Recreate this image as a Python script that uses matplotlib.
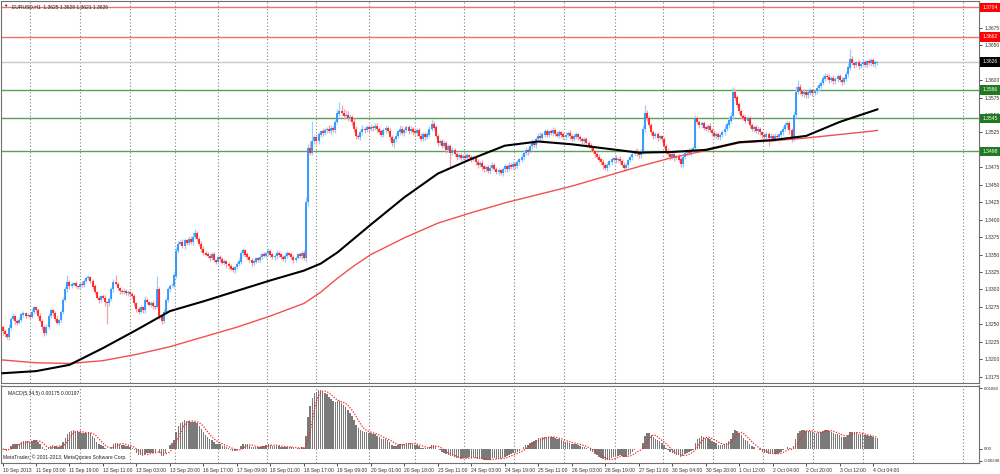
import numpy as np
import pandas as pd
import matplotlib
matplotlib.use("Agg")
import matplotlib.pyplot as plt
from matplotlib.transforms import blended_transform_factory

plt.rcParams["font.family"] = ["Liberation Sans", "DejaVu Sans"]

# ---------------- data ----------------
first_open = 1.3246
closes = [
 1.3240,1.3236,1.3232,1.3245,1.3258,1.3262,1.3255,1.3252,1.3256,1.3264,
 1.3266,1.3262,1.3263,1.3261,1.3268,1.3274,1.3270,1.3262,1.3255,1.3246,
 1.3238,1.3246,1.3262,1.3270,1.3266,1.3258,1.3252,1.3256,1.3268,1.3285,
 1.3300,1.3310,1.3305,1.3307,1.3309,1.3305,1.3304,1.3308,1.3306,1.3312,
 1.3316,1.3318,1.3312,1.3304,1.3296,1.3288,1.3285,1.3290,1.3288,1.3282,
 1.3280,1.3286,1.3300,1.3310,1.3308,1.3302,1.3298,1.3296,1.3298,1.3295,
 1.3296,1.3293,1.3290,1.3280,1.3272,1.3268,1.3274,1.3270,1.3285,1.3282,
 1.3278,1.3280,1.3276,1.3275,1.3300,1.3262,1.3255,1.3268,1.3285,1.3300,
 1.3305,1.3305,1.3320,1.3355,1.3365,1.3368,1.3362,1.3370,1.3366,1.3372,
 1.3368,1.3375,1.3380,1.3372,1.3365,1.3358,1.3352,1.3350,1.3348,1.3345,
 1.3350,1.3342,1.3340,1.3346,1.3343,1.3338,1.3340,1.3336,1.3333,1.3330,
 1.3328,1.3332,1.3336,1.3340,1.3352,1.3356,1.3350,1.3346,1.3342,1.3338,
 1.3340,1.3344,1.3342,1.3346,1.3350,1.3348,1.3352,1.3355,1.3350,1.3346,
 1.3348,1.3352,1.3350,1.3346,1.3344,1.3348,1.3352,1.3350,1.3346,1.3342,
 1.3345,1.3350,1.3348,1.3352,1.3345,1.3425,1.3502,1.3496,1.3512,1.3518,
 1.3512,1.3522,1.3526,1.3524,1.3528,1.3530,1.3527,1.3531,1.3528,1.3540,
 1.3552,1.3556,1.3553,1.3548,1.3550,1.3545,1.3546,1.3540,1.3530,1.3520,
 1.3518,1.3525,1.3530,1.3528,1.3532,1.3530,1.3533,1.3531,1.3534,1.3530,
 1.3526,1.3522,1.3528,1.3531,1.3527,1.3518,1.3510,1.3515,1.3520,1.3526,
 1.3530,1.3524,1.3528,1.3532,1.3527,1.3530,1.3526,1.3524,1.3528,1.3520,
 1.3516,1.3522,1.3518,1.3522,1.3530,1.3537,1.3532,1.3520,1.3510,1.3512,
 1.3506,1.3510,1.3500,1.3505,1.3496,1.3500,1.3494,1.3490,1.3492,1.3488,
 1.3491,1.3489,1.3492,1.3490,1.3486,1.3488,1.3482,1.3478,1.3481,1.3476,
 1.3472,1.3475,1.3470,1.3474,1.3478,1.3472,1.3468,1.3471,1.3467,1.3472,
 1.3476,1.3473,1.3478,1.3475,1.3480,1.3477,1.3482,1.3486,1.3490,1.3495,
 1.3500,1.3497,1.3505,1.3510,1.3507,1.3515,1.3520,1.3517,1.3522,1.3526,
 1.3522,1.3526,1.3524,1.3528,1.3523,1.3520,1.3525,1.3522,1.3518,1.3521,
 1.3524,1.3520,1.3516,1.3519,1.3522,1.3518,1.3515,1.3512,1.3515,1.3510,
 1.3506,1.3502,1.3498,1.3494,1.3490,1.3486,1.3482,1.3478,1.3474,1.3478,
 1.3483,1.3486,1.3488,1.3485,1.3487,1.3484,1.3478,1.3474,1.3478,1.3485,
 1.3490,1.3494,1.3498,1.3495,1.3492,1.3497,1.3530,1.3553,1.3545,1.3535,
 1.3525,1.3520,1.3522,1.3517,1.3519,1.3515,1.3505,1.3498,1.3494,1.3490,
 1.3493,1.3488,1.3491,1.3486,1.3480,1.3490,1.3495,1.3498,1.3495,1.3500,
 1.3502,1.3545,1.3540,1.3535,1.3538,1.3532,1.3530,1.3534,1.3528,1.3524,
 1.3520,1.3522,1.3518,1.3521,1.3525,1.3530,1.3536,1.3542,1.3548,1.3582,
 1.3575,1.3565,1.3555,1.3548,1.3546,1.3542,1.3545,1.3535,1.3530,1.3532,
 1.3527,1.3530,1.3525,1.3521,1.3518,1.3522,1.3517,1.3520,1.3516,1.3520,
 1.3518,1.3522,1.3526,1.3530,1.3535,1.3538,1.3528,1.3515,1.3550,1.3583,
 1.3590,1.3584,1.3580,1.3583,1.3578,1.3582,1.3585,1.3581,1.3584,1.3588,
 1.3592,1.3596,1.3602,1.3606,1.3604,1.3600,1.3603,1.3598,1.3601,1.3605,
 1.3600,1.3597,1.3602,1.3608,1.3618,1.3630,1.3624,1.3622,1.3625,1.3620,
 1.3623,1.3626,1.3622,1.3627,1.3624,1.3628,1.3623,1.3625,1.3626,
]
# upper / lower wick lengths in pips (0.0001)
wick_hi = [
 3,4,2,5,3,4,2,3,4,2,3,2,3,4,5,3,2,3,4,2,
 3,4,5,3,2,3,4,2,3,4,5,11,3,4,2,3,2,3,4,3,
 4,3,2,3,4,2,3,2,3,4,2,3,4,5,11,3,2,3,4,2,
 3,2,3,4,2,3,4,3,5,3,2,4,3,2,19,3,2,4,3,4,
 3,4,5,6,4,3,5,4,3,4,5,8,6,4,3,5,4,3,4,3,
 4,3,2,4,3,4,3,2,3,4,3,2,4,5,4,3,2,3,4,3,
 4,3,2,3,4,3,2,4,3,2,3,4,3,2,3,4,3,2,3,4,
 3,2,4,3,5,8,6,10,30,4,5,4,3,6,4,3,5,4,3,4,
 6,13,8,6,7,5,6,4,5,4,3,4,5,3,4,3,4,3,5,4,
 3,4,3,4,3,5,4,3,4,3,5,4,3,4,3,4,3,5,4,3,
 4,3,4,5,4,7,5,4,3,4,3,4,3,4,3,4,3,3,4,3,
 3,4,3,2,3,4,3,5,3,4,2,4,3,4,5,3,4,3,2,3,
 4,3,4,3,4,2,4,3,4,5,4,3,4,5,4,3,4,5,3,4,
 4,3,4,5,3,4,3,2,3,4,3,5,3,4,3,2,3,4,3,4,
 3,4,3,2,3,4,3,5,3,4,3,4,2,4,3,4,3,4,3,4,
 3,4,3,4,3,4,5,11,4,3,4,3,4,3,2,3,4,3,4,3,
 4,3,2,3,4,3,4,3,4,2,4,5,4,3,4,3,2,3,4,3,
 4,3,4,3,4,5,4,5,6,8,5,4,3,4,3,4,3,4,3,4,
 3,4,3,2,3,4,3,4,3,4,3,2,3,4,5,4,3,4,5,8,
 10,4,3,4,3,4,3,2,3,4,5,4,5,4,3,4,3,4,3,4,
 3,4,3,5,6,15,5,4,3,4,3,4,3,2,3,4,3,4,2,
]
wick_lo = [
 5,4,3,4,3,2,4,3,2,3,4,3,2,3,2,3,4,3,2,4,
 5,3,2,3,4,3,2,3,2,3,2,3,4,3,2,3,4,3,2,3,
 3,2,3,4,3,2,4,3,2,5,29,3,2,3,2,3,4,3,2,3,
 4,3,2,3,4,3,2,3,4,3,2,3,4,3,2,5,4,3,2,3,
 3,2,3,4,3,2,3,4,3,2,3,4,3,2,3,4,3,2,3,4,
 3,2,3,4,3,2,3,5,3,2,3,4,3,2,3,4,3,2,3,4,
 3,2,3,4,3,2,3,4,3,2,4,4,3,2,3,4,3,2,3,4,
 3,2,3,4,3,5,6,4,3,4,3,4,3,4,3,4,3,4,3,4,
 3,4,3,4,3,4,3,4,5,4,3,4,3,4,3,4,3,4,3,4,
 3,4,3,4,3,4,5,8,4,3,4,3,4,3,4,3,4,3,4,3,
 4,3,4,3,4,3,4,3,4,3,4,3,4,3,20,4,3,4,3,4,
 3,4,3,4,3,2,3,4,3,5,3,4,3,4,3,2,3,4,3,4,
 3,4,3,2,3,4,3,4,3,4,3,4,2,4,3,4,3,4,3,4,
 3,4,3,4,3,2,3,4,3,4,3,5,3,4,3,4,3,4,3,4,
 3,4,3,4,3,4,3,5,3,4,3,4,3,4,2,4,3,4,3,4,
 3,4,3,4,3,4,3,4,3,4,3,4,3,4,3,4,3,4,3,4,
 3,4,3,4,5,4,3,4,3,4,3,4,3,4,3,4,3,4,3,4,
 3,4,3,4,3,4,3,4,3,4,3,4,3,4,3,4,3,4,3,4,
 3,4,3,4,3,4,11,4,3,4,3,4,3,4,3,4,5,4,3,4,
 3,4,3,4,3,4,3,4,3,4,3,4,3,4,3,4,3,4,3,4,
 3,4,3,4,3,4,3,4,3,4,3,4,3,4,3,4,3,4,3,
]

ma_bars = [0,16,32,48,64,80,96,112,128,144,152,160,168,176,192,208,224,240,256,272,
           288,304,320,336,352,368,384,400,416,418]
ma_black = [1.3180,1.3183,1.3192,1.3216,1.3242,1.3269,1.3283,1.3298,1.3313,1.3327,
            1.3337,1.3353,1.3373,1.3393,1.3432,1.3466,1.3487,1.3506,1.3512,1.3508,
            1.3502,1.3496,1.3497,1.3500,1.3511,1.3514,1.3520,1.3540,1.3556,1.3558]
ma_red = [1.3199,1.3195,1.3194,1.3198,1.3207,1.3218,1.3232,1.3246,1.3262,1.3280,
          1.3296,1.3316,1.3334,1.3350,1.3374,1.3395,1.3410,1.3424,1.3436,1.3448,
          1.3462,1.3476,1.3489,1.3499,1.3510,1.3513,1.3517,1.3522,1.3527,1.3528]

time_labels = ["10 Sep 2013","11 Sep 03:00","11 Sep 19:00","12 Sep 11:00","13 Sep 03:00",
               "13 Sep 20:00","16 Sep 17:00","17 Sep 09:00","18 Sep 01:00","18 Sep 17:00",
               "19 Sep 09:00","20 Sep 01:00","20 Sep 18:00","23 Sep 11:00","24 Sep 03:00",
               "24 Sep 19:00","25 Sep 11:00","26 Sep 03:00","26 Sep 19:00","27 Sep 11:00",
               "30 Sep 04:00","30 Sep 20:00","1 Oct 12:00","2 Oct 04:00","2 Oct 20:00",
               "3 Oct 12:00","4 Oct 04:00"]
label_step = 16

grid_bars = [12.9,36.8,61,82.6,103,126.5,150,175,197,220.6,244.5,268.4,292.7,
             315.7,339.5,363.4,387.3,411.2,435,459]

level_prices = [1.3704, 1.3662, 1.3626, 1.3586, 1.3545, 1.3498]
level_lines = ["#f07070", "#f07070", "#c8c8c8", "#5aa05a", "#5aa05a", "#5aa05a"]
level_boxes = ["#ff0000", "#ff0000", "#000000", "#1f7a1f", "#1f7a1f", "#1f7a1f"]

title_text = "EURUSD,H1  1.3625 1.3628 1.3621 1.3626"
macd_fast, macd_slow, macd_sig = 5, 34, 5
macd_values_text = "0.00175 0.00197"
macd_top_label, macd_bottom_label = "0.01080", "-0.00248"
copyright_text = "MetaTrader, \u00a9 2001-2013, MetaQuotes Software Corp."

# ---------------- derived ----------------
c = np.array(closes)
o = np.concatenate([[first_open], c[:-1]])
hi = np.maximum(o, c) + np.array(wick_hi) * 1e-4
lo = np.minimum(o, c) - np.array(wick_lo) * 1e-4
n = len(c)
x = np.arange(n)

s = pd.Series(c)
macd = (s.ewm(span=macd_fast, adjust=False).mean() - s.ewm(span=macd_slow, adjust=False).mean()).values
signal = pd.Series(macd).rolling(macd_sig, min_periods=1).mean().values

# ---------------- figure ----------------
W, H = 1000, 474
fig = plt.figure(figsize=(W / 100, H / 100), dpi=100)
fig.patch.set_facecolor("white")

def frac(px_left, px_top, px_right, px_bottom):
    return [px_left / W, 1 - px_bottom / H, (px_right - px_left) / W, (px_bottom - px_top) / H]

ax = fig.add_axes(frac(0.5, 0.5, 979, 383))
ax2 = fig.add_axes(frac(0.5, 385.5, 979, 463))

FS = 3.6
x0 = -0.96
x1 = (979 - 2) / 2.094
for a in (ax, ax2):
    a.set_xlim(x0, x1)
    for sp in a.spines.values():
        sp.set_color("#707070")
        sp.set_linewidth(0.8)
    for g in grid_bars:
        a.axvline(g, color="#808080", lw=0.8, ls=(0, (1, 2)), zorder=0)

ax.set_ylim(1.3166, 1.3714)

# horizontal levels
for p, col in zip(level_prices, level_lines):
    ax.axhline(p, color=col, lw=1.0, zorder=1)

# candles
up = c >= o
dn = ~up
ax.vlines(x[up], lo[up], hi[up], color="#9fd0fa", lw=0.9, zorder=2)
ax.vlines(x[dn], lo[dn], hi[dn], color="#f9a0a0", lw=0.9, zorder=2)
bo = np.minimum(o, c)
bc = np.maximum(o, c) + 0.00004
ax.vlines(x[up], bo[up], bc[up], color="#1e8fff", lw=1.2, zorder=3)
ax.vlines(x[dn], bo[dn], bc[dn], color="#ff1010", lw=1.2, zorder=3)

# moving averages
ax.plot(ma_bars, ma_red, color="#f25050", lw=1.0, zorder=4)
ax.plot(ma_bars, ma_black, color="#000000", lw=1.5, zorder=5)

# price axis
ticks = np.arange(1.3175, 1.37001, 0.0025)
ax.yaxis.tick_right()
ax.set_yticks(ticks)
ax.set_yticklabels([f"{t:.4f}" for t in ticks])
ax.tick_params(axis="y", labelsize=FS, length=2.5, width=0.6, pad=1.2, colors="#303030")
ax.set_xticks([])

trans = blended_transform_factory(ax.transAxes, ax.transData)
for p, col in zip(level_prices, level_boxes):
    ax.text(1.0035, p, f"{p:.4f}", transform=trans, fontsize=FS, color="white",
            va="center", ha="left", zorder=20, clip_on=False,
            bbox=dict(boxstyle="square,pad=0.45", fc=col, ec=col, lw=0))

ax.text(0.012, 0.99, title_text, transform=ax.transAxes, fontsize=FS, va="top",
        ha="left", color="#202020", zorder=20)
ax.text(0.003, 0.99, "\u25bc", transform=ax.transAxes, fontsize=3.2, va="top",
        ha="left", color="#202020", zorder=20)

# MACD panel
ax2.bar(x, macd, width=0.7, color="#7a7a7a", zorder=2)
ax2.plot(x, signal, color="#ff2020", lw=0.9, ls=(0, (1, 1.2)), zorder=3)
ax2.set_ylim(-0.0025, 0.0113)
ax2.yaxis.tick_right()
ax2.set_yticks([0.0108, 0.0, -0.0021])
ax2.set_yticklabels([macd_top_label, "0.00", macd_bottom_label])
ax2.tick_params(axis="y", labelsize=3.1, length=2.5, width=0.6, pad=1.0, colors="#303030")
ax2.text(0.008, 0.93, f"MACD({macd_fast},{macd_slow},{macd_sig}) {macd_values_text}",
         transform=ax2.transAxes, fontsize=FS, va="top", ha="left", color="#202020")
ax2.text(0.003, 0.04, copyright_text, transform=ax2.transAxes, fontsize=FS,
         va="bottom", ha="left", color="#202020")

tick_pos = [i * label_step for i in range(len(time_labels))]
ax2.set_xticks(tick_pos)
ax2.set_xticklabels(time_labels, ha="left")
ax2.tick_params(axis="x", labelsize=FS, length=2.5, width=0.6, pad=1.2, colors="#303030")

fig.savefig("out.png", dpi=100, facecolor="white")
